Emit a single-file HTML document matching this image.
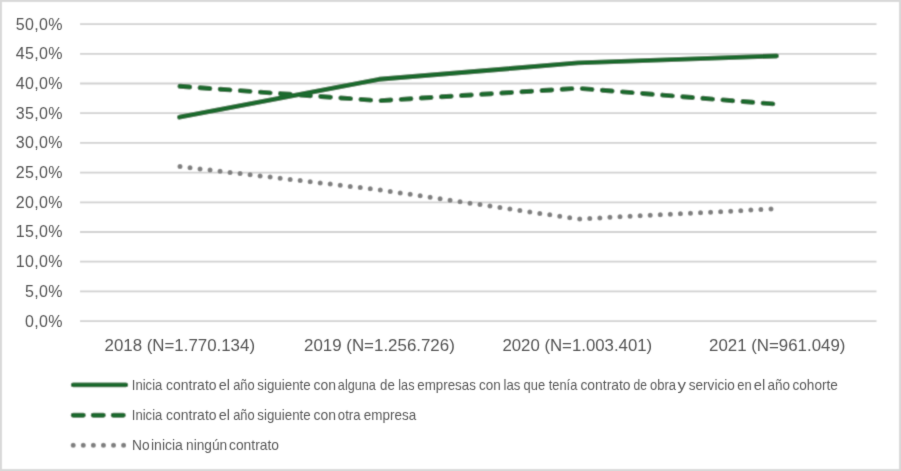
<!DOCTYPE html>
<html><head><meta charset="utf-8"><style>
html,body{margin:0;padding:0;background:#fff;}
svg{display:block;}
text{font-family:"Liberation Sans",sans-serif;fill:#555555;}
.lg text{fill:#5a5a5a;}
</style></head><body>
<svg width="901" height="471" viewBox="0 0 901 471">
<defs><filter id="bl" x="0" y="0" width="901" height="471" filterUnits="userSpaceOnUse"><feConvolveMatrix order="3" kernelMatrix="0.0276 0.1109 0.0276 0.1109 0.4462 0.1109 0.0276 0.1109 0.0276" edgeMode="duplicate"/></filter><filter id="bt" x="0" y="0" width="901" height="471" filterUnits="userSpaceOnUse"><feConvolveMatrix order="3" kernelMatrix="0.0100 0.0800 0.0100 0.0800 0.6400 0.0800 0.0100 0.0800 0.0100" edgeMode="none"/></filter></defs>
<g filter="url(#bl)">
<rect x="0" y="0" width="901" height="471" fill="#fff"/>
<rect x="1" y="1" width="899" height="469" fill="none" stroke="#d9d9d9" stroke-width="2"/>
<g stroke="#d0d0d0" stroke-width="1.8"><line x1="80" x2="876.5" y1="321.10" y2="321.10"/><line x1="80" x2="876.5" y1="291.40" y2="291.40"/><line x1="80" x2="876.5" y1="261.70" y2="261.70"/><line x1="80" x2="876.5" y1="232.00" y2="232.00"/><line x1="80" x2="876.5" y1="202.30" y2="202.30"/><line x1="80" x2="876.5" y1="172.60" y2="172.60"/><line x1="80" x2="876.5" y1="142.90" y2="142.90"/><line x1="80" x2="876.5" y1="113.20" y2="113.20"/><line x1="80" x2="876.5" y1="83.50" y2="83.50"/><line x1="80" x2="876.5" y1="53.80" y2="53.80"/><line x1="80" x2="876.5" y1="24.10" y2="24.10"/></g>
<polyline points="180,166.6 379,189.8 578,219.0 776.5,208.8" fill="none" stroke="#7f7f7f" stroke-width="5.0" stroke-linecap="round" stroke-linejoin="round" stroke-dasharray="0 10.08"/>
<polyline points="179.9,86.3 379,100.7 578,88.3 776.5,104.2" fill="none" stroke="#1e6b2e" stroke-width="4.9" stroke-linecap="round" stroke-linejoin="round" stroke-dasharray="9.9 10.26"/>
<polyline points="179.5,117.2 379,79.3 578,62.9 776.5,56.0" fill="none" stroke="#1e6b2e" stroke-width="4.9" stroke-linecap="round" stroke-linejoin="round"/>
<g fill="none" stroke-linecap="round">
<line x1="73.2" y1="384.9" x2="125.8" y2="384.9" stroke="#1e6b2e" stroke-width="4.9"/>
<line x1="73.1" y1="415.2" x2="125.8" y2="415.2" stroke="#1e6b2e" stroke-width="4.9" stroke-dasharray="10.3 9.7"/>
<line x1="73.2" y1="445.3" x2="125" y2="445.3" stroke="#7f7f7f" stroke-width="5.0" stroke-dasharray="0 10.08"/>
</g>
</g>
<g filter="url(#bt)">
<g font-size="16" text-anchor="end" letter-spacing="0.35"><text x="62.9" y="326.50">0,0%</text><text x="62.9" y="296.80">5,0%</text><text x="62.9" y="267.10">10,0%</text><text x="62.9" y="237.40">15,0%</text><text x="62.9" y="207.70">20,0%</text><text x="62.9" y="178.00">25,0%</text><text x="62.9" y="148.30">30,0%</text><text x="62.9" y="118.60">35,0%</text><text x="62.9" y="88.90">40,0%</text><text x="62.9" y="59.20">45,0%</text><text x="62.9" y="29.50">50,0%</text></g>
<g font-size="17"><text x="104.50" y="351" textLength="150.5" lengthAdjust="spacingAndGlyphs">2018 (N=1.770.134)</text><text x="304.00" y="351" textLength="150.8" lengthAdjust="spacingAndGlyphs">2019 (N=1.256.726)</text><text x="502.40" y="351" textLength="149.8" lengthAdjust="spacingAndGlyphs">2020 (N=1.003.401)</text><text x="709.00" y="351" textLength="136.4" lengthAdjust="spacingAndGlyphs">2021 (N=961.049)</text></g>
<g font-size="14" class="lg"><text transform="translate(131.83,389.7) scale(0.9333,1)">Inicia</text><text transform="translate(166.10,389.7) scale(0.9980,1)">contrato</text><text transform="translate(218.78,389.7) scale(1.0316,1)">el</text><text transform="translate(233.14,389.7) scale(0.9213,1)">año</text><text transform="translate(257.32,389.7) scale(0.9527,1)">siguiente</text><text transform="translate(313.40,389.7) scale(0.9976,1)">con</text><text transform="translate(337.85,389.7) scale(0.9036,1)">alguna</text><text transform="translate(380.12,389.7) scale(0.9517,1)">de</text><text transform="translate(398.30,389.7) scale(0.9030,1)">las</text><text transform="translate(417.32,389.7) scale(0.9537,1)">empresas</text><text transform="translate(479.02,389.7) scale(0.9647,1)">con</text><text transform="translate(503.46,389.7) scale(0.9394,1)">las</text><text transform="translate(523.54,389.7) scale(0.9213,1)">que</text><text transform="translate(548.77,389.7) scale(0.9161,1)">tenía</text><text transform="translate(580.40,389.7) scale(0.9919,1)">contrato</text><text transform="translate(633.57,389.7) scale(0.8621,1)">de</text><text transform="translate(649.94,389.7) scale(0.9273,1)">obra</text><text transform="translate(677.40,389.7) scale(1.2143,1)">y</text><text transform="translate(688.71,389.7) scale(0.9720,1)">servicio</text><text transform="translate(737.24,389.7) scale(0.9263,1)">en</text><text transform="translate(753.87,389.7) scale(1.0526,1)">el</text><text transform="translate(767.52,389.7) scale(0.9663,1)">año</text><text transform="translate(792.51,389.7) scale(0.9705,1)">cohorte</text><text transform="translate(131.83,419.7) scale(0.9333,1)">Inicia</text><text transform="translate(166.10,419.7) scale(0.9980,1)">contrato</text><text transform="translate(218.78,419.7) scale(1.0316,1)">el</text><text transform="translate(233.14,419.7) scale(0.9213,1)">año</text><text transform="translate(257.32,419.7) scale(0.9527,1)">siguiente</text><text transform="translate(313.40,419.7) scale(0.9976,1)">con</text><text transform="translate(337.83,419.7) scale(0.9389,1)">otra</text><text transform="translate(363.82,419.7) scale(0.9611,1)">empresa</text><text transform="translate(132.02,449.7) scale(0.9846,1)">No</text><text transform="translate(151.00,449.7) scale(1.0000,1)">inicia</text><text transform="translate(186.02,449.7) scale(0.9814,1)">ningún</text><text transform="translate(229.01,449.7) scale(0.9879,1)">contrato</text></g>
</g>
</svg>
</body></html>
